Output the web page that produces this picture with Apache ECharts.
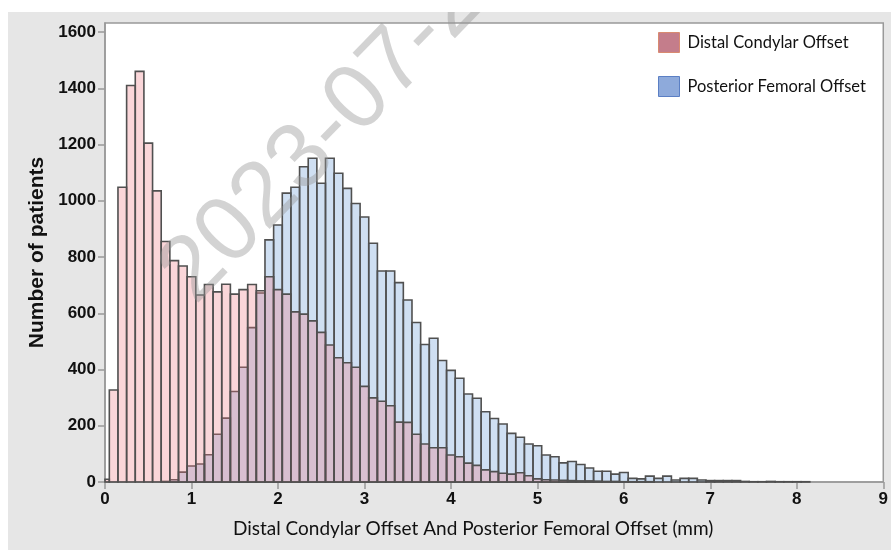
<!DOCTYPE html>
<html>
<head>
<meta charset="utf-8">
<script src="https://cdn.jsdelivr.net/npm/echarts@6/dist/echarts.min.js"></script>
<style>
html, body { margin: 0; padding: 0; background: #fff; }
#wrap { position: relative; width: 891px; height: 550px; background: #fff; overflow: hidden; }
#chart { position: absolute; left: 8px; top: 12px; width: 883px; height: 538px; }
</style>
</head>
<body>
<div id="wrap"><div id="chart"></div></div>
<script>
// histogram bins are 0.1 mm wide, centred on 0, 0.1, 0.2 ...
var binWidth = 0.1;

// Distal Condylar Offset counts per bin
var distalCounts = [10, 327, 1048, 1410, 1460, 1205, 1035, 855, 787, 768,
  730, 665, 702, 676, 703, 668, 684, 702, 680, 730,
  684, 668, 605, 597, 573, 532, 487, 442, 424, 408,
  340, 299, 287, 271, 213, 212, 170, 135, 122, 122,
  96, 90, 67, 59, 43, 37, 31, 28, 33, 22,
  11, 8, 7, 6, 5, 4, 4, 3, 2, 2,
  1, 1, 1, 1];

// Posterior Femoral Offset counts per bin
var posteriorCounts = [0, 0, 0, 0, 0, 0, 0, 2, 8, 35,
  57, 64, 97, 170, 227, 322, 408, 549, 672, 861,
  914, 1027, 1048, 1121, 1151, 1062, 1151, 1098, 1044, 990,
  942, 849, 750, 750, 709, 647, 567, 489, 511, 432,
  397, 369, 313, 298, 250, 226, 206, 173, 159, 135,
  129, 96, 90, 68, 73, 62, 50, 38, 38, 28,
  34, 13, 11, 21, 13, 21, 7, 13, 13, 7,
  5, 5, 5, 5, 2, 1, 1, 2, 1, 1,
  1, 1];

var xTicks = [0, 1, 2, 3, 4, 5, 6, 7, 8, 9];
var yTicks = [0, 200, 400, 600, 800, 1000, 1200, 1400, 1600];
var seriesNames = ['Distal Condylar Offset', 'Posterior Femoral Offset'];
var watermark = '2023-07-2';

function toBins(counts) {
  return counts.map(function (c, i) { return [i * binWidth, c]; });
}

function histItem(fill) {
  return function (params, api) {
    var v = api.value(1);
    if (!(v > 0)) return null;
    var x = api.value(0);
    var tl = api.coord([x - binWidth / 2, v]);
    var br = api.coord([x + binWidth / 2, 0]);
    var cs = params.coordSys;
    var shape = echarts.graphic.clipRectByRect(
      { x: tl[0], y: tl[1], width: br[0] - tl[0], height: br[1] - tl[1] },
      { x: cs.x, y: cs.y, width: cs.width, height: cs.height });
    if (!shape) return null;
    return {
      type: 'rect',
      shape: shape,
      style: { fill: fill, stroke: '#505050', lineWidth: 1.6 }
    };
  };
}

var chart = echarts.init(document.getElementById('chart'));

var option = {
  backgroundColor: '#e6e6e6',
  animation: false,
  grid: {
    left: 97, top: 11, width: 782, height: 459,
    show: true, backgroundColor: '#fff', borderColor: '#999', borderWidth: 1.5
  },
  legend: {
    orient: 'vertical',
    left: 650, top: 20,
    padding: 0,
    itemWidth: 21, itemHeight: 20, itemGap: 23,
    icon: 'rect',
    selectedMode: false,
    textStyle: { fontFamily: 'Lato', fontSize: 16.5, color: '#111', padding: [0, 0, 0, 3] },
    data: [
      { name: seriesNames[0], itemStyle: { color: '#c47d8b', borderColor: '#d98a70', borderWidth: 1 } },
      { name: seriesNames[1], itemStyle: { color: '#8eaadb', borderColor: '#5b7fc4', borderWidth: 1 } }
    ]
  },
  xAxis: {
    type: 'value',
    min: 0, max: 9, interval: 1,
    name: 'Distal Condylar Offset And Posterior Femoral Offset (mm)',
    nameLocation: 'middle',
    nameGap: 37,
    nameTextStyle: { fontFamily: 'Lato', fontSize: 19, color: '#111', padding: [0, 42, 0, 0] },
    axisLine: { show: true, lineStyle: { color: '#999', width: 1.5 } },
    axisTick: { show: true, length: 7, lineStyle: { color: '#999', width: 1.5 }, customValues: xTicks },
    axisLabel: { margin: 9, fontFamily: 'Liberation Sans', fontWeight: 'bold', fontSize: 17, color: '#111', customValues: xTicks },
    splitLine: { show: false }
  },
  yAxis: {
    type: 'value',
    min: 0, max: 1632,
    name: 'Number of patients',
    nameLocation: 'middle',
    nameGap: 55,
    nameTextStyle: { fontFamily: 'Liberation Sans', fontWeight: 'bold', fontSize: 21, color: '#111' },
    axisLine: { show: true, lineStyle: { color: '#999', width: 1.5 } },
    axisTick: { show: true, length: 7, lineStyle: { color: '#999', width: 1.5 }, customValues: yTicks },
    axisLabel: {
      margin: 9, fontFamily: 'Liberation Sans', fontWeight: 'bold', fontSize: 17, color: '#111',
      customValues: yTicks,
      formatter: function (v) { return String(v); }
    },
    splitLine: { show: false }
  },
  graphic: [{
    type: 'text',
    x: 202, y: 308,
    rotation: 0.8,
    z: 100,
    silent: true,
    style: {
      text: watermark,
      font: '92px "Liberation Sans"',
      fill: 'rgba(150,150,150,0.42)',
      verticalAlign: 'bottom'
    }
  }],
  series: [
    {
      name: seriesNames[1],
      type: 'custom',
      renderItem: histItem('rgba(118,164,218,0.35)'),
      itemStyle: { color: '#8eaadb' },
      encode: { x: 0, y: 1 },
      data: toBins(posteriorCounts)
    },
    {
      name: seriesNames[0],
      type: 'custom',
      renderItem: histItem('rgba(237,120,130,0.3)'),
      itemStyle: { color: '#c47d8b' },
      encode: { x: 0, y: 1 },
      data: toBins(distalCounts)
    }
  ]
};

chart.setOption(option);
</script>
</body>
</html>
